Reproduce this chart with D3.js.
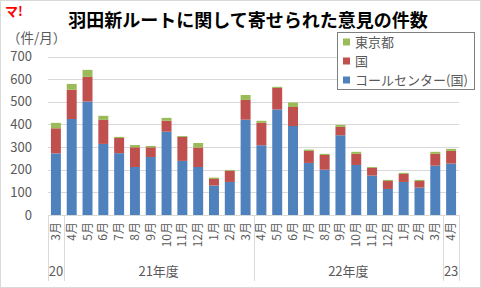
<!DOCTYPE html>
<html>
<head>
<meta charset="utf-8">
<script src="https://cdn.jsdelivr.net/npm/d3@7"></script>
<style>
  body { margin: 0; background: #fff; }
  text { font-family: "Noto Sans CJK JP", "Noto Sans", sans-serif; }
</style>
</head>
<body>
<script>
// データ
const months = ['3月','4月','5月','6月','7月','8月','9月','10月','11月','12月','1月','2月','3月',
                '4月','5月','6月','7月','8月','9月','10月','11月','12月','1月','2月','3月','4月'];
const callCenter = [272,424,501,314,273,212,256,368,239,212,130,146,421,
                    308,466,393,230,200,352,221,174,115,146,121,218,227];
const kuni = [111,129,109,106,67,87,43,48,106,86,29,49,87,
              99,95,84,53,65,37,49,34,35,35,29,52,56];
const tokyo = [24,26,31,18,5,10,6,13,4,20,6,4,22,
               9,5,20,6,5,9,9,4,5,5,5,9,9];
const groups = [{label:'20', from:0, to:0}, {label:'21年度', from:1, to:12},
                {label:'22年度', from:13, to:24}, {label:'23', from:25, to:25}];
const seriesNames = ['コールセンター(国)', '国', '東京都'];
const colors = ['#4f81bd', '#c0504d', '#9bbb59'];
const yTicks = [0,100,200,300,400,500,600,700];

const width = 481, height = 288;
const plot = { left: 48, right: 459, top: 56.5, bottom: 215 };

const svg = d3.select('body').append('svg')
    .attr('width', width)
    .attr('height', height);

// 外枠
svg.append('rect')
    .attr('x', 0.5).attr('y', 0.5)
    .attr('width', width - 1).attr('height', height - 1)
    .attr('fill', '#fff').attr('stroke', '#d9d9d9');

const x = d3.scaleBand()
    .domain(d3.range(months.length))
    .range([plot.left, plot.right]);

const y = d3.scaleLinear()
    .domain([0, 700])
    .range([plot.bottom, plot.top]);

// グリッド線
svg.selectAll('.grid')
    .data(yTicks.slice(1))
    .enter().append('line')
    .attr('x1', plot.left).attr('x2', plot.right)
    .attr('y1', d => Math.round(y(d)) + 0.5).attr('y2', d => Math.round(y(d)) + 0.5)
    .attr('stroke', '#d9d9d9');

// Y軸ラベル
svg.selectAll('.ytick')
    .data(yTicks)
    .enter().append('text')
    .attr('x', 32)
    .attr('y', d => y(d))
    .attr('dy', '0.35em')
    .attr('text-anchor', 'end')
    .attr('fill', '#595959')
    .style('font-size', '13px')
    .text(d => d);

svg.append('text')
    .attr('x', 7).attr('y', 43)
    .attr('fill', '#595959')
    .style('font-size', '13.5px')
    .text('（件/月）');

// 積み上げ
const rows = months.map((m, i) => ({ i, v: [callCenter[i], kuni[i], tokyo[i]] }));
const stack = d3.stack().keys([0, 1, 2]).value((d, k) => d.v[k]);
const stacked = stack(rows);

const barW = x.bandwidth() * 0.63;
svg.selectAll('.series')
    .data(stacked)
    .enter().append('g')
    .attr('fill', (d, k) => colors[k])
    .selectAll('rect')
    .data(d => d)
    .enter().append('rect')
    .attr('x', d => x(d.data.i) + (x.bandwidth() - barW) / 2)
    .attr('width', barW)
    .attr('y', d => y(d[1]))
    .attr('height', d => y(d[0]) - y(d[1]));

// X軸線
svg.append('line')
    .attr('x1', plot.left).attr('x2', plot.right)
    .attr('y1', plot.bottom + 0.5).attr('y2', plot.bottom + 0.5)
    .attr('stroke', '#d9d9d9');

// 月ラベル（縦書き）
svg.selectAll('.xlab')
    .data(months)
    .enter().append('text')
    .attr('transform', (d, i) => `translate(${x(i) + x.bandwidth() / 2 + 4}, 222) rotate(-90)`)
    .attr('text-anchor', 'end')
    .attr('fill', '#595959')
    .style('font-size', '12px')
    .text(d => d);

// 年度の区切り線
const seps = [0].concat(groups.map(g => g.to + 1));
svg.selectAll('.sep')
    .data(seps)
    .enter().append('line')
    .attr('x1', d => Math.round(d < months.length ? x(d) : plot.right) + 0.5)
    .attr('x2', d => Math.round(d < months.length ? x(d) : plot.right) + 0.5)
    .attr('y1', plot.bottom).attr('y2', 281)
    .attr('stroke', '#d9d9d9');

svg.selectAll('.glab')
    .data(groups)
    .enter().append('text')
    .attr('x', g => (x(g.from) + x(g.to) + x.bandwidth()) / 2)
    .attr('y', 276)
    .attr('text-anchor', 'middle')
    .attr('fill', '#595959')
    .style('font-size', '13px')
    .text(g => g.label);

// タイトル
svg.append('text')
    .attr('x', 248).attr('y', 27)
    .attr('text-anchor', 'middle')
    .attr('fill', '#000')
    .style('font-size', '18px')
    .style('font-weight', 'bold')
    .text('羽田新ルートに関して寄せられた意見の件数');

svg.append('text')
    .attr('x', 5).attr('y', 16)
    .attr('fill', '#ff0000')
    .style('font-size', '13px')
    .style('font-weight', 'bold')
    .text('マ!');

// 凡例
const legend = svg.append('g');
legend.append('rect')
    .attr('x', 337.5).attr('y', 32.5)
    .attr('width', 137).attr('height', 57)
    .attr('fill', '#fff').attr('stroke', '#7f7f7f');

[2, 1, 0].forEach((k, j) => {
    const cy = 42 + j * 19;
    legend.append('rect')
        .attr('x', 343).attr('y', cy - 3.5)
        .attr('width', 7).attr('height', 7)
        .attr('fill', colors[k]);
    legend.append('text')
        .attr('x', 355).attr('y', cy)
        .attr('dy', '0.35em')
        .attr('fill', '#595959')
        .style('font-size', '13px')
        .text(seriesNames[k]);
});
</script>
</body>
</html>
